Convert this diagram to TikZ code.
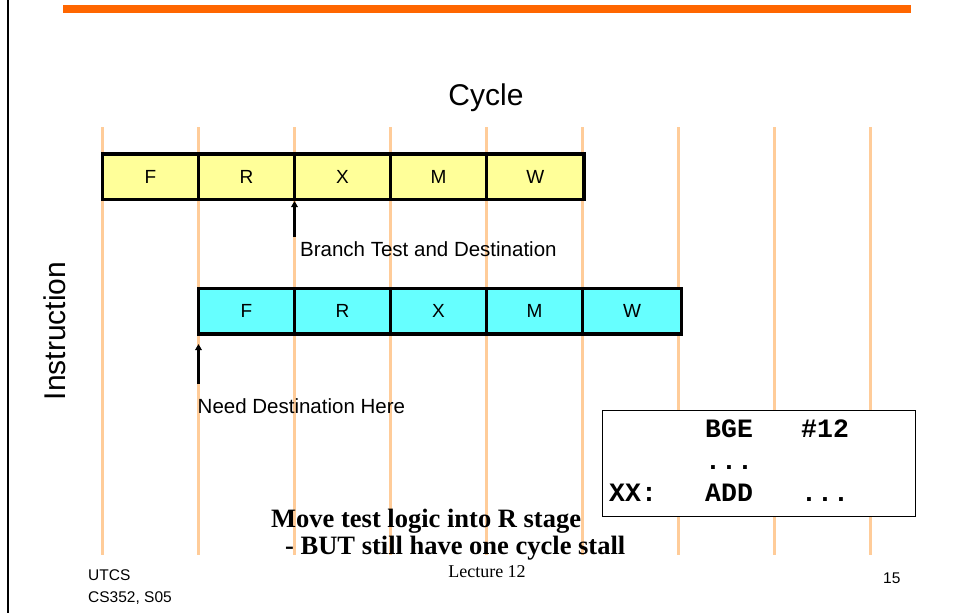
\documentclass[tikz,border=0pt]{standalone}
\usepackage{fontspec}
\setmainfont{Liberation Serif}
\setsansfont{Liberation Sans}
\setmonofont{Liberation Mono}
\usetikzlibrary{arrows.meta}

\definecolor{barorange}{RGB}{255,102,0}
\definecolor{gridpeach}{RGB}{255,204,153}
\definecolor{stageyellow}{RGB}{255,255,153}
\definecolor{stagecyan}{RGB}{102,255,255}

\tikzset{
  gridline/.style={draw=gridpeach, line width=3pt},
  stagebox/.style={draw=black, line width=3.5pt, minimum height=45.5pt,
    inner sep=0pt, outer sep=0pt, anchor=north west,
    font=\sffamily\fontsize{19}{22}\selectfont},
  yellowstage/.style={stagebox, fill=stageyellow},
  cyanstage/.style={stagebox, fill=stagecyan},
  pointer/.style={draw=black, line width=2.6pt,
    -{Triangle[length=6pt,width=6.5pt]}},
  note/.style={anchor=base west, inner sep=0pt,
    font=\sffamily\fontsize{20.5}{24}\selectfont},
  codetext/.style={anchor=base west, inner sep=0pt,
    font=\ttfamily\bfseries\fontsize{26.5}{30}\selectfont},
  footer/.style={inner sep=0pt, font=\sffamily\fontsize{15.5}{18}\selectfont},
  boldline/.style={anchor=base west, inner sep=0pt,
    font=\bfseries\fontsize{26.5}{30}\selectfont}
}

\begin{document}
\begin{tikzpicture}[x=1pt,y=-1pt]
\useasboundingbox (0,0) rectangle (954,613);
\fill[white] (0,0) rectangle (954,613);

% slide frame: left rule and title bar
\draw[line width=2.5pt] (7.8,0) -- (7.8,613);
\fill[barorange] (63,5) rectangle (911,13);

% cycle grid
\foreach \k in {0,...,8}
  \draw[gridline] (102.5+96*\k,127) -- (102.5+96*\k,555);

% axis titles
\node[anchor=base, inner sep=0pt, font=\sffamily\fontsize{30}{34}\selectfont] (cycle) at (486,105) {Cycle};
\node[rotate=90, anchor=base, inner sep=0pt, font=\sffamily\fontsize{30}{34}\selectfont] (instr) at (65,331) {Instruction};

% branch instruction pipeline
\node[yellowstage, minimum width=96pt] (y1) at (102.5,154) {F};
\node[yellowstage, minimum width=96pt] (y2) at (y1.north east) {R};
\node[yellowstage, minimum width=96pt] (y3) at (y2.north east) {X};
\node[yellowstage, minimum width=96pt] (y4) at (y3.north east) {M};
\node[yellowstage, minimum width=97.5pt] (y5) at (y4.north east) {W};

% following instruction pipeline
\node[cyanstage, minimum width=96pt] (c1) at (198.5,288.5) {F};
\node[cyanstage, minimum width=96pt] (c2) at (c1.north east) {R};
\node[cyanstage, minimum width=96pt] (c3) at (c2.north east) {X};
\node[cyanstage, minimum width=96pt] (c4) at (c3.north east) {M};
\node[cyanstage, minimum width=99pt] (c5) at (c4.north east) {W};

% annotations
\coordinate (bt) at (294.5,237);
\coordinate (btTip) at ([yshift=-1.5pt]y3.south west);
\draw[pointer] (bt) -- (btTip);
\node[note] (btlabel) at (300,256.5) {Branch Test and Destination};

\coordinate (nd) at (198.5,384);
\coordinate (ndTip) at (198.5,344);
\draw[pointer] (nd) -- (ndTip);
\node[note] (ndlabel) at (197.5,413) {Need Destination Here};

% code listing
\node[draw=black, fill=white, line width=1.2pt, minimum width=313pt,
  minimum height=106.5pt, inner sep=0pt, anchor=north west] (code) at (602,409.5) {};
\node[codetext] (op1) at (705,437.5) {BGE};
\node[codetext] (arg1) at (801,437.5) {\#12};
\node[codetext] (dots1) at (705,469.5) {...};
\node[codetext] (lbl) at (609,501.5) {XX:};
\node[codetext] (op2) at (705,501.5) {ADD};
\node[codetext] (arg2) at (801,501.5) {...};

% conclusion
\node[boldline] (msg1) at (271,527.5) {Move test logic into R stage};
\node[boldline] (msg2) at (285,554) {- BUT still have one cycle stall};

% footer
\node[anchor=base, inner sep=0pt, font=\fontsize{18}{20}\selectfont] (lecture) at (487,577.7) {Lecture 12};
\node[footer, anchor=base west] (utcs) at (88,580.5) {UTCS};
\node[footer, anchor=base west] (course) at (88,602) {CS352, S05};
\node[footer, anchor=base west] (page) at (883,583) {15};
\end{tikzpicture}
\end{document}
